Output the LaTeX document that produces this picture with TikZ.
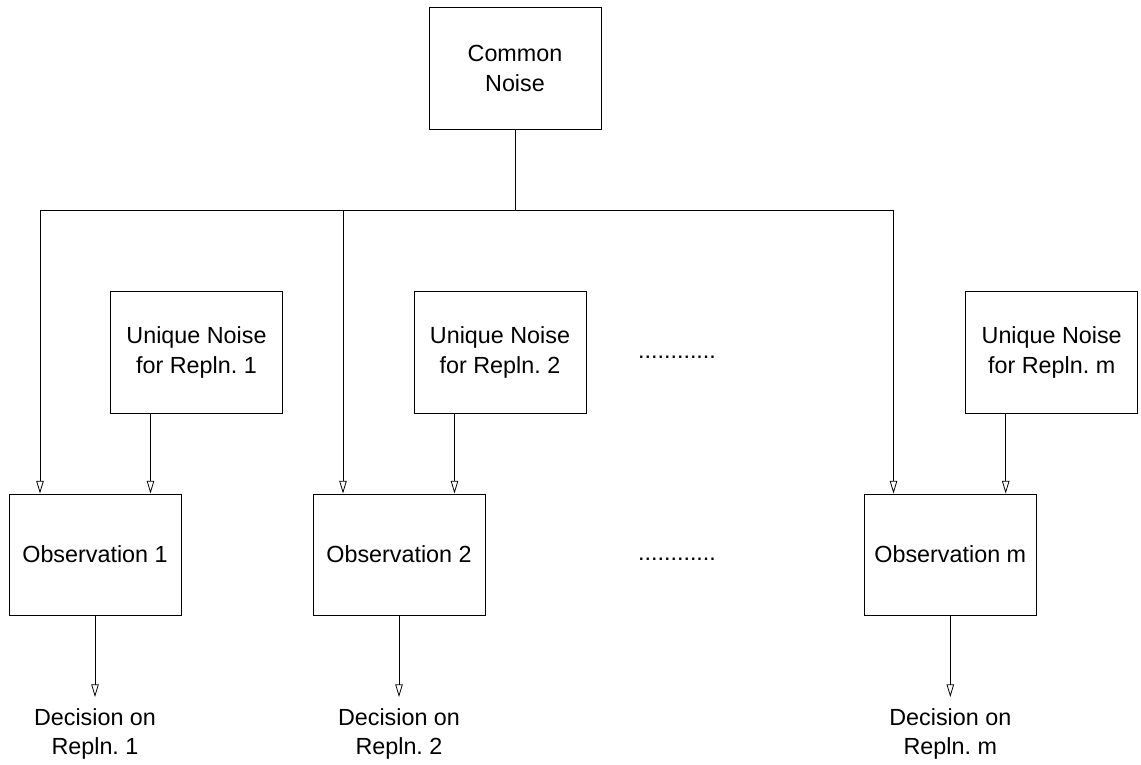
\documentclass[tikz,border=0pt]{standalone}
\usepackage{fontspec}
\setmainfont{Liberation Sans}
\usetikzlibrary{arrows.meta}
\frenchspacing
\begin{document}
\begin{tikzpicture}[x=0.75pt,y=-0.75pt,
  font=\fontsize{17.5}{22}\selectfont\frenchspacing,
  box/.style={draw, line width=0.6pt, minimum width=129pt, minimum height=91pt, inner sep=0pt, align=center},
  dec/.style={align=center, inner xsep=0pt, inner ysep=8.6pt, anchor=north},
  line/.style={line width=0.6pt},
  arr/.style={line width=0.6pt, -{Triangle[open,length=9.5pt,width=5.6pt]}},
  dots/.style={anchor=base, inner sep=0pt}]
\path[use as bounding box] (0,0) rectangle (1141,764);

% boxes
\node[box] (common) at (515,68.5) {Common\\Noise};
\node[box] (u1) at (196.5,352.3) {Unique Noise\\for Repln. 1};
\node[box] (u2) at (500,352.3) {Unique Noise\\for Repln. 2};
\node[box] (um) at (1051.7,352.3) {Unique Noise\\for Repln. m};
\node[box] (o1) at (95,554.6) {Observation 1};
\node[box] (o2) at (399,554.6) {Observation 2};
\node[box] (om) at (950.3,554.6) {Observation m};

% decisions
\node[dec] (d1) at (95,697) {Decision on\\Repln. 1};
\node[dec] (d2) at (399,697) {Decision on\\Repln. 2};
\node[dec] (dm) at (950.3,697) {Decision on\\Repln. m};

% dots
\node[dots] (dots1) at (677,358) {............};
\node[dots] (dots2) at (677,560.5) {............};

% bus
\coordinate (bus) at (515,210.5);
\coordinate (busL) at (40,210.5);
\coordinate (bus2) at (343,210.5);
\coordinate (busR) at (893.5,210.5);
\draw[line] (common.south) -- (bus);
\draw[line] (busL) -- (busR);
\draw[arr] (busL) -- (busL |- o1.north);
\draw[arr] (bus2) -- (bus2 |- o2.north);
\draw[arr] (busR) -- (busR |- om.north);

% unique noise taps
\coordinate (t1) at (150.5,413);
\coordinate (t2) at (454.5,413);
\coordinate (tm) at (1005.7,413);
\draw[arr] (u1.south -| t1) -- (o1.north -| t1);
\draw[arr] (u2.south -| t2) -- (o2.north -| t2);
\draw[arr] (um.south -| tm) -- (om.north -| tm);

% decision arrows
\draw[arr] (o1.south) -- (d1.north);
\draw[arr] (o2.south) -- (d2.north);
\draw[arr] (om.south) -- (dm.north);
\end{tikzpicture}
\end{document}
